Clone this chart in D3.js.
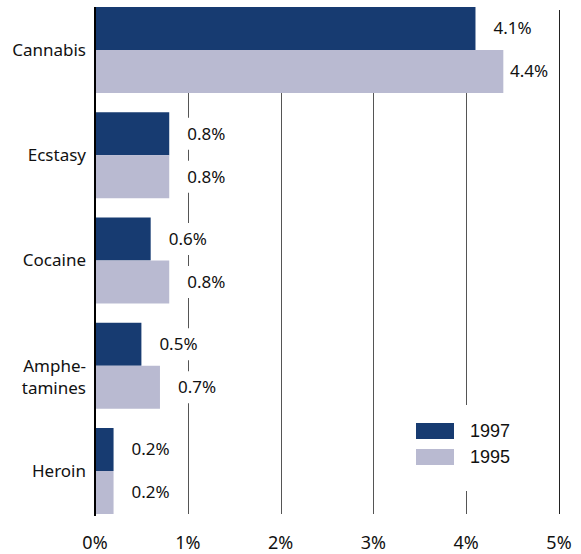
<!DOCTYPE html>
<html><head><meta charset="utf-8">
<script src="https://cdn.jsdelivr.net/npm/d3@7"></script>
<style>
html,body{margin:0;padding:0;background:#fff;}
svg{display:block;}
</style></head>
<body>
<script>
const categories = ["Cannabis", "Ecstasy", "Cocaine", "Amphetamines", "Heroin"];
const categoryLines = [["Cannabis"], ["Ecstasy"], ["Cocaine"], ["Amphe-", "tamines"], ["Heroin"]];
const seriesNames = ["1997", "1995"];
const values1997 = [4.1, 0.8, 0.6, 0.5, 0.2];
const values1995 = [4.4, 0.8, 0.8, 0.7, 0.2];
const tickValues = [0, 1, 2, 3, 4, 5];
const tickLabels = ["0%", "1%", "2%", "3%", "4%", "5%"];
const colors = ["#173b71", "#b9bad1"];

const W = 581, H = 554;
const svg = d3.select("body").append("svg").attr("width", W).attr("height", H);
const font = "'Noto Sans', sans-serif";

const x = d3.scaleLinear().domain([0, 5]).range([95, 559]);
const y = d3.scaleBand().domain(categories).range([7, 514]).paddingInner(0.183).paddingOuter(0);
const ySub = d3.scaleBand().domain(seriesNames).range([0, y.bandwidth()]);

const series = [values1997, values1995];
const rows = [];
categories.forEach((c, i) => seriesNames.forEach((s, j) => rows.push({cat: c, s, v: series[j][i], j})));

// gridlines
svg.append("g").selectAll("line").data(tickValues.filter(d => d > 0)).join("line")
  .attr("x1", d => Math.round(x(d)) + 0.5).attr("x2", d => Math.round(x(d)) + 0.5)
  .attr("y1", 10).attr("y2", 514)
  .attr("stroke", d => d === 5 ? "#222" : "#555").attr("stroke-width", 1);

// bars
svg.append("g").selectAll("rect").data(rows).join("rect")
  .attr("x", x(0))
  .attr("y", d => y(d.cat) + ySub(d.s))
  .attr("width", d => x(d.v) - x(0))
  .attr("height", ySub.bandwidth())
  .attr("fill", d => colors[d.j]);

// zero axis line
svg.append("line").attr("x1", 95).attr("x2", 95).attr("y1", 7).attr("y2", 516)
  .attr("stroke", "#000").attr("stroke-width", 2);

// value labels with white background
const lblG = svg.append("g");
rows.forEach(d => {
  const g = lblG.append("g");
  const lx = Math.min(x(d.v) + 18, x(5) - 49);
  const cy = y(d.cat) + ySub(d.s) + ySub.bandwidth() / 2;
  const bg = g.append("rect").attr("fill", "#fff");
  const t = g.append("text").attr("x", lx).attr("y", cy).attr("dy", "0.35em")
    .attr("font-family", font).attr("font-size", 17).attr("fill", "#111")
    .text(d.v.toFixed(1) + "%");
  const bb = t.node().getBBox();
  bg.attr("x", bb.x - 4).attr("y", cy - 16).attr("width", bb.width + 8).attr("height", 32);
});

// category labels
const catG = svg.append("g");
categoryLines.forEach((lines, i) => {
  const cy = y(categories[i]) + y.bandwidth() / 2;
  const t = catG.append("text").attr("x", 86).attr("y", cy).attr("text-anchor", "end")
    .attr("font-family", font).attr("font-size", 17).attr("fill", "#111");
  lines.forEach((ln, k) => {
    t.append("tspan").attr("x", 86).attr("dy", k === 0 ? "0.35em" : "1.32em").text(ln);
  });
});

// x tick labels
svg.append("g").selectAll("text").data(tickValues).join("text")
  .attr("x", d => x(d)).attr("y", 543).attr("dy", "0.35em").attr("text-anchor", "middle")
  .attr("font-family", font).attr("font-size", 18).attr("fill", "#111")
  .text((d, i) => tickLabels[i]);

// legend
const leg = svg.append("g");
leg.append("rect").attr("x", 402).attr("y", 405).attr("width", 130).attr("height", 86).attr("fill", "#fff");
seriesNames.forEach((s, i) => {
  const yy = 423 + i * 26;
  leg.append("rect").attr("x", 416).attr("y", yy).attr("width", 38).attr("height", 16).attr("fill", colors[i]);
  leg.append("text").attr("x", 470).attr("y", yy + 8).attr("dy", "0.35em")
    .attr("font-family", "'Liberation Sans', Arial, sans-serif").attr("font-size", 18).attr("fill", "#111")
    .text(s);
});
</script>
</body></html>
